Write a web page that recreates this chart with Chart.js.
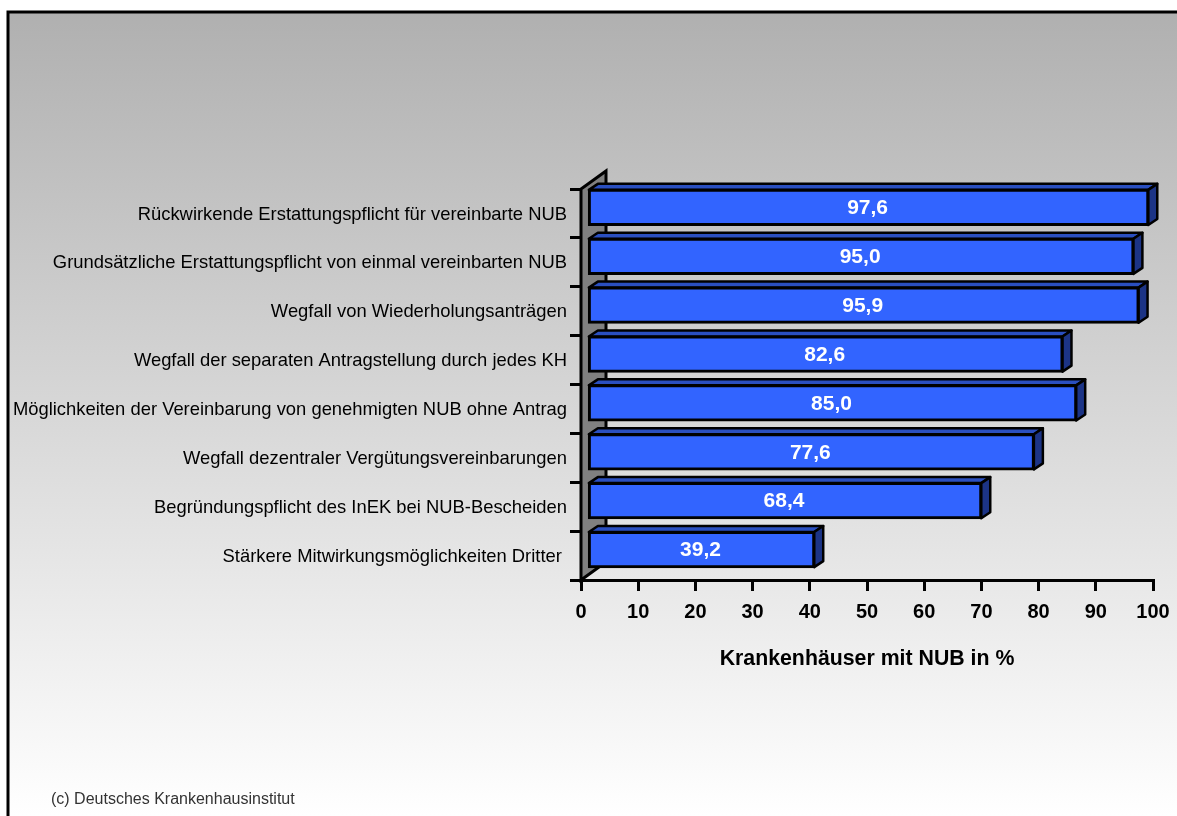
<!DOCTYPE html>
<html>
<head>
<meta charset="utf-8">
<script src="https://cdn.jsdelivr.net/npm/chart.js@4"></script>
<style>
  html, body { margin: 0; padding: 0; background: #fff; overflow: hidden; }
  #wrap { position: relative; width: 1177px; height: 816px; }
  #credit { position: absolute; left: 51px; top: 790px; font: 16px "Liberation Sans", Arial, sans-serif; color: #333; }
</style>
</head>
<body>
<div id="wrap">
  <canvas id="chart" width="1177" height="816"></canvas>
  <div id="credit">(c) Deutsches Krankenhausinstitut</div>
</div>
<script>
const categories = [
  "Rückwirkende Erstattungspflicht für vereinbarte NUB",
  "Grundsätzliche Erstattungspflicht von einmal vereinbarten NUB",
  "Wegfall von Wiederholungsanträgen",
  "Wegfall der separaten Antragstellung durch jedes KH",
  "Möglichkeiten der Vereinbarung von genehmigten NUB ohne Antrag",
  "Wegfall dezentraler Vergütungsvereinbarungen",
  "Begründungspflicht des InEK bei NUB-Bescheiden",
  "Stärkere Mitwirkungsmöglichkeiten Dritter "
];
const shares = [97.6, 95.0, 95.9, 82.6, 85.0, 77.6, 68.4, 39.2];
const axisTitle = "Krankenhäuser mit NUB in %";

// fake 3D offsets, px
const barShift = { x: 9, y: -6 };
const wallDepth = { x: 25, y: 18 };

const backdrop = {
  id: "backdrop",
  beforeDraw(chart) {
    const c = chart.ctx;
    const g = c.createLinearGradient(0, 12, 0, 816);
    g.addColorStop(0, "#b0b0b0");
    g.addColorStop(1, "#ffffff");
    c.save();
    c.fillStyle = g;
    c.fillRect(8, 12, 1169, 804);
    c.strokeStyle = "#000";
    c.lineWidth = 3;
    c.beginPath();
    c.moveTo(8, 816);
    c.lineTo(8, 12);
    c.lineTo(1177, 12);
    c.stroke();
    c.restore();
  }
};

const wall = {
  id: "wall",
  beforeDatasetsDraw(chart) {
    const c = chart.ctx;
    const a = chart.chartArea;
    c.save();
    c.fillStyle = "#808080";
    c.strokeStyle = "#000";
    c.lineWidth = 3;
    c.beginPath();
    c.moveTo(a.left, a.bottom);
    c.lineTo(a.left, a.top);
    c.lineTo(a.left + wallDepth.x, a.top - wallDepth.y);
    c.lineTo(a.left + wallDepth.x, a.bottom - wallDepth.y);
    c.closePath();
    c.fill();
    c.stroke();
    c.restore();
  },
  // the bars sit a bit in front of the wall
  beforeDatasetDraw(chart) {
    const c = chart.ctx;
    c.save();
    c.translate(barShift.x, barShift.y);
    chart.getDatasetMeta(0).data.forEach((bar) => {
      const top = bar.y - bar.height / 2;
      const bottom = bar.y + bar.height / 2;
      const dx = barShift.x;
      const dy = barShift.y;
      c.lineWidth = 2.5;
      c.strokeStyle = "#000";
      c.lineJoin = "round";
      c.fillStyle = "#2a4fc0";
      c.beginPath();
      c.moveTo(bar.base, top);
      c.lineTo(bar.base + dx, top + dy);
      c.lineTo(bar.x + dx, top + dy);
      c.lineTo(bar.x, top);
      c.closePath();
      c.fill();
      c.stroke();
      c.fillStyle = "#1c3486";
      c.beginPath();
      c.moveTo(bar.x, top);
      c.lineTo(bar.x + dx, top + dy);
      c.lineTo(bar.x + dx, bottom + dy);
      c.lineTo(bar.x, bottom);
      c.closePath();
      c.fill();
      c.stroke();
    });
  },
  afterDatasetDraw(chart) {
    const c = chart.ctx;
    c.font = 'bold 21px "Liberation Sans", Arial, sans-serif';
    c.fillStyle = "#fff";
    c.textAlign = "center";
    c.textBaseline = "middle";
    chart.getDatasetMeta(0).data.forEach((bar, i) => {
      c.fillText(shares[i].toFixed(1).replace(".", ","), (bar.base + bar.x) / 2 - 1, bar.y + 1);
    });
    c.restore();
  }
};

new Chart(document.getElementById("chart"), {
  type: "bar",
  data: {
    labels: categories,
    datasets: [{
      data: shares,
      base: -0.2,
      clip: false,
      backgroundColor: "#3264ff",
      borderColor: "#000",
      borderWidth: 3,
      borderSkipped: false,
      inflateAmount: 1,
      categoryPercentage: 1,
      barPercentage: 0.72
    }]
  },
  options: {
    indexAxis: "y",
    responsive: false,
    animation: false,
    layout: { padding: { top: 189, right: 24, left: 0, bottom: 140 } },
    plugins: { legend: { display: false }, tooltip: { enabled: false } },
    scales: {
      x: {
        min: 0,
        max: 100,
        // last tick label may stick out past the plot
        afterFit: (s) => { s.height = 96; s.paddingRight = 0; s.paddingLeft = 0; },
        grid: {
          drawOnChartArea: false,
          color: "#000",
          lineWidth: 3,
          tickLength: 11
        },
        border: { color: "#000", width: 3 },
        ticks: {
          stepSize: 10,
          maxRotation: 0,
          padding: 9,
          color: "#000",
          font: { family: "Liberation Sans", size: 20, weight: "bold" }
        },
        title: {
          display: true,
          text: axisTitle,
          color: "#000",
          font: { family: "Liberation Sans", size: 21.3, weight: "bold" }
        }
      },
      y: {
        afterFit: (s) => { s.width = 581; },
        grid: {
          drawOnChartArea: false,
          color: "#000",
          lineWidth: 3,
          tickLength: 11
        },
        border: { color: "#000", width: 3 },
        ticks: {
          autoSkip: false,
          padding: 3,
          labelOffset: 1,
          color: "#000",
          font: { family: "Liberation Sans", size: 18.4 }
        }
      }
    }
  },
  plugins: [backdrop, wall]
});
</script>
</body>
</html>
